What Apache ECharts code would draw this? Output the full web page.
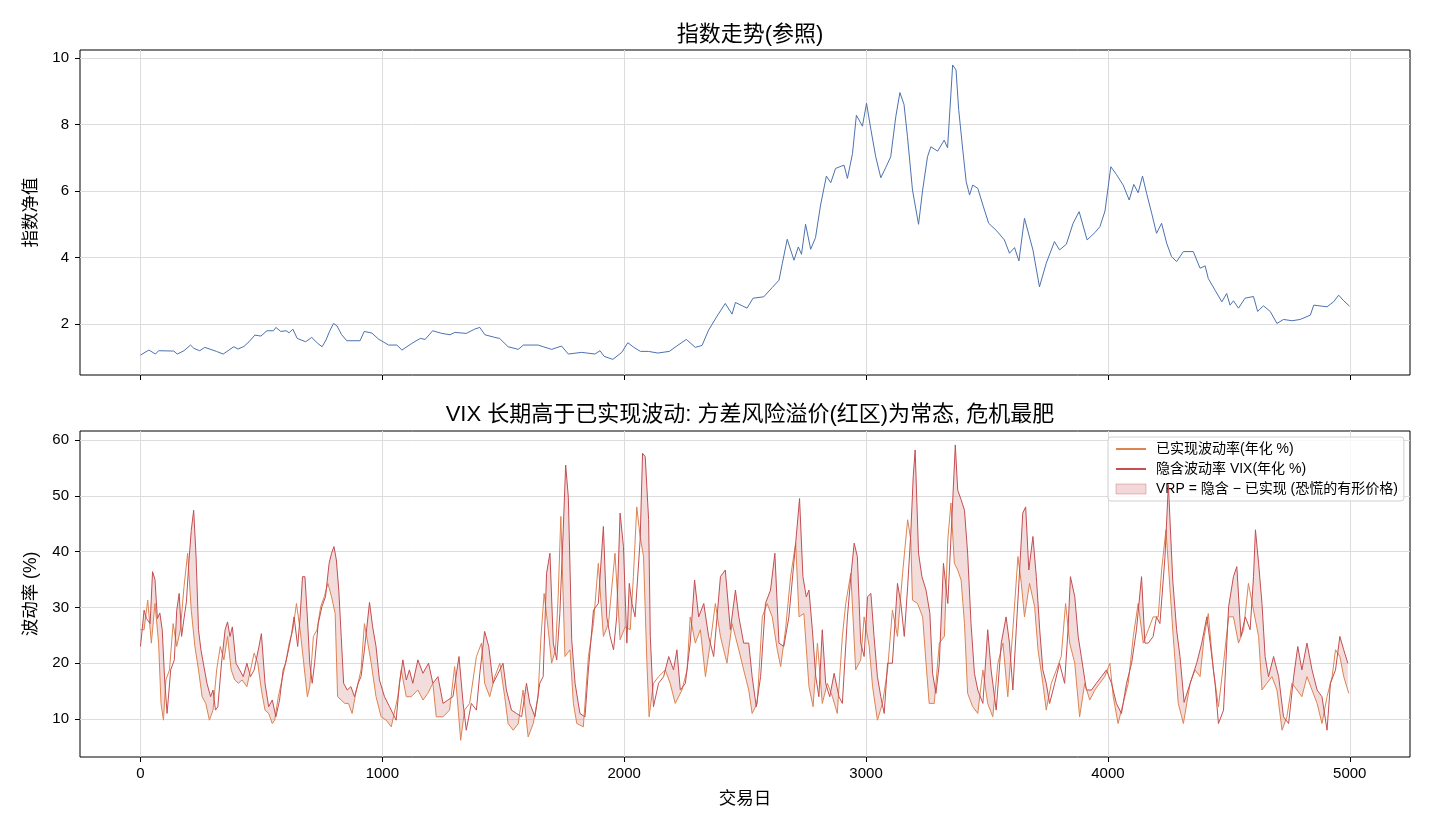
<!DOCTYPE html>
<html>
<head>
<meta charset="utf-8">
<script src="https://cdn.jsdelivr.net/npm/echarts@6/dist/echarts.min.js"></script>
<style>
  html, body { margin: 0; padding: 0; background: #fff; }
  #chart { width: 1430px; height: 832px; }
</style>
</head>
<body>
<div id="chart"></div>
<script>
// 指数净值 (上图)
const idxDays = [0, 35, 62, 75, 138, 152, 180, 207, 221, 245, 266, 314, 342, 362, 386, 403, 428, 449, 473, 498, 523, 550, 560, 580, 602, 615, 630, 648, 683, 708, 733, 751, 767, 781, 798, 812, 832, 853, 908, 925, 957, 984, 1026, 1060, 1081, 1122, 1157, 1177, 1208, 1246, 1280, 1300, 1347, 1382, 1403, 1424, 1465, 1485, 1520, 1562, 1583, 1645, 1665, 1700, 1741, 1769, 1824, 1879, 1900, 1917, 1953, 1990, 2015, 2040, 2067, 2100, 2139, 2187, 2215, 2257, 2294, 2322, 2349, 2384, 2418, 2446, 2460, 2488, 2508, 2533, 2577, 2612, 2640, 2654, 2674, 2702, 2720, 2733, 2750, 2771, 2791, 2812, 2836, 2854, 2874, 2909, 2923, 2944, 2960, 2985, 3002, 3020, 3040, 3061, 3081, 3102, 3123, 3140, 3157, 3171, 3192, 3217, 3234, 3254, 3268, 3296, 3323, 3337, 3351, 3358, 3372, 3383, 3400, 3414, 3428, 3441, 3462, 3483, 3507, 3538, 3572, 3593, 3614, 3632, 3655, 3669, 3690, 3717, 3745, 3779, 3800, 3828, 3856, 3881, 3914, 3946, 3967, 3988, 4012, 4035, 4063, 4088, 4107, 4125, 4143, 4160, 4181, 4201, 4222, 4243, 4263, 4284, 4312, 4353, 4381, 4402, 4415, 4443, 4471, 4491, 4505, 4519, 4540, 4567, 4602, 4619, 4643, 4671, 4699, 4726, 4761, 4795, 4837, 4851, 4906, 4933, 4954, 4975, 4999];
const idxValues = [1.07, 1.22, 1.10, 1.2, 1.19, 1.10, 1.2, 1.37, 1.27, 1.2, 1.3, 1.18, 1.10, 1.2, 1.32, 1.25, 1.33, 1.47, 1.67, 1.64, 1.80, 1.80, 1.90, 1.78, 1.8, 1.74, 1.85, 1.57, 1.47, 1.6, 1.42, 1.32, 1.52, 1.77, 2.02, 1.95, 1.68, 1.50, 1.50, 1.78, 1.73, 1.55, 1.37, 1.37, 1.22, 1.42, 1.57, 1.54, 1.80, 1.72, 1.68, 1.75, 1.72, 1.85, 1.90, 1.68, 1.6, 1.57, 1.32, 1.24, 1.37, 1.37, 1.32, 1.24, 1.34, 1.10, 1.15, 1.10, 1.2, 1.03, 0.94, 1.15, 1.44, 1.3, 1.18, 1.18, 1.13, 1.18, 1.33, 1.54, 1.3, 1.36, 1.82, 2.24, 2.62, 2.3, 2.65, 2.55, 2.48, 2.78, 2.82, 3.1, 3.32, 3.83, 4.55, 3.92, 4.32, 4.1, 5.0, 4.25, 4.6, 5.58, 6.45, 6.25, 6.68, 6.78, 6.38, 7.13, 8.28, 7.95, 8.64, 7.85, 7.03, 6.4, 6.7, 7.03, 8.24, 8.96, 8.6, 7.65, 6.03, 5.0, 6.03, 7.03, 7.33, 7.2, 7.53, 7.3, 8.94, 9.79, 9.64, 8.45, 7.23, 6.28, 5.88, 6.18, 6.08, 5.58, 5.03, 4.82, 4.53, 4.13, 4.3, 3.9, 5.18, 4.8, 4.23, 3.12, 3.83, 4.48, 4.23, 4.4, 5.03, 5.38, 4.53, 4.75, 4.93, 5.4, 6.73, 6.5, 6.18, 5.73, 6.2, 5.95, 6.45, 5.93, 5.33, 4.73, 5.03, 4.43, 4.03, 3.88, 4.18, 4.18, 3.68, 3.75, 3.37, 3.02, 2.67, 2.92, 2.57, 2.7, 2.48, 2.78, 2.83, 2.38, 2.55, 2.38, 2.02, 2.14, 2.1, 2.14, 2.27, 2.57, 2.52, 2.67, 2.87, 2.7, 2.54];

// 已实现波动率 (下图, 橙)
const rvDays = [0, 15, 30, 45, 60, 75, 85, 95, 105, 120, 135, 150, 165, 180, 195, 210, 225, 240, 255, 270, 285, 300, 315, 330, 345, 360, 375, 390, 405, 420, 440, 455, 470, 485, 500, 515, 530, 545, 555, 570, 585, 600, 615, 630, 645, 660, 675, 690, 700, 715, 730, 745, 760, 775, 790, 805, 815, 830, 845, 860, 875, 890, 912, 926, 940, 954, 974, 995, 1016, 1037, 1064, 1078, 1099, 1119, 1147, 1168, 1188, 1209, 1223, 1251, 1278, 1299, 1324, 1340, 1361, 1389, 1410, 1423, 1444, 1465, 1486, 1506, 1520, 1541, 1562, 1582, 1603, 1624, 1644, 1656, 1669, 1686, 1700, 1716, 1727, 1738, 1755, 1776, 1790, 1804, 1831, 1852, 1873, 1893, 1914, 1935, 1962, 1983, 2004, 2025, 2038, 2052, 2066, 2080, 2094, 2103, 2121, 2142, 2170, 2190, 2211, 2239, 2260, 2273, 2294, 2315, 2336, 2356, 2377, 2398, 2425, 2446, 2474, 2494, 2515, 2529, 2550, 2571, 2591, 2612, 2633, 2647, 2667, 2688, 2709, 2723, 2743, 2764, 2781, 2799, 2819, 2840, 2861, 2881, 2902, 2916, 2937, 2957, 2978, 2992, 3013, 3027, 3047, 3068, 3089, 3109, 3130, 3151, 3172, 3185, 3192, 3213, 3234, 3248, 3261, 3282, 3303, 3324, 3338, 3351, 3365, 3379, 3393, 3407, 3420, 3441, 3462, 3483, 3503, 3524, 3545, 3566, 3586, 3607, 3628, 3642, 3655, 3676, 3697, 3711, 3731, 3745, 3766, 3787, 3807, 3825, 3842, 3863, 3883, 3904, 3925, 3946, 3966, 3987, 4008, 4022, 4042, 4063, 4084, 4105, 4125, 4146, 4167, 4187, 4208, 4222, 4240, 4257, 4270, 4291, 4312, 4340, 4360, 4381, 4398, 4415, 4436, 4457, 4478, 4499, 4519, 4540, 4561, 4581, 4602, 4623, 4637, 4657, 4678, 4699, 4720, 4740, 4761, 4782, 4802, 4823, 4844, 4865, 4885, 4906, 4927, 4941, 4959, 4975, 4996];
const rvValues = [26, 26, 31.3, 23.6, 30.7, 23.6, 12.8, 9.8, 17, 18.8, 27.1, 23, 26, 33.7, 39.7, 29.5, 23, 18.8, 14, 12.8, 9.8, 11.6, 18.8, 23, 20.6, 24.8, 18.8, 17, 16.4, 17, 15.8, 18.8, 21.8, 20, 15.2, 11.6, 11, 9.2, 9.8, 14, 17, 20, 23.6, 26, 30.7, 26, 20, 14, 15.8, 24.8, 26, 30.1, 31.9, 34.3, 31.9, 28.9, 14, 13.4, 12.8, 12.8, 11, 14.6, 18.8, 27.1, 23.6, 20, 14, 10.4, 9.8, 8.6, 14, 18.8, 14, 14, 15.2, 13.4, 14.6, 16.4, 10.4, 10.4, 11.6, 19.4, 6.2, 11.6, 12.8, 21.2, 23.6, 16.4, 14, 17.6, 20, 14, 9.2, 8, 9.2, 15.2, 6.8, 9.2, 14, 24.8, 32.5, 26, 20, 22.4, 31.9, 46.3, 21.2, 22.4, 12.8, 9.2, 8.6, 21.2, 27.1, 37.9, 24.8, 27.1, 39.7, 24.2, 26.5, 26, 35.5, 48, 42.7, 39.1, 20, 10.4, 16.4, 17.6, 18.8, 16.4, 12.8, 15.2, 18.8, 28.3, 23.6, 26, 17.6, 23.6, 30.7, 24.8, 20, 27.1, 22.4, 18.8, 15.2, 11, 12.8, 28.3, 30.7, 28.3, 22.4, 19.4, 26, 35.5, 41.5, 28.3, 28.9, 15.8, 12.2, 23.6, 12.8, 16.4, 14, 11, 24.8, 30.7, 36.1, 18.8, 20.6, 28.3, 23, 15.8, 9.8, 12.8, 18.8, 29.5, 24.8, 36.1, 45.7, 42.1, 31.3, 30.7, 28.3, 20, 12.8, 12.8, 23.6, 24.8, 42.1, 48.7, 37.9, 36.7, 34.9, 27.1, 14.6, 12.2, 11, 18.8, 12.8, 10.4, 20, 23.6, 14, 26, 39.1, 34.3, 28.3, 34.3, 30.1, 22.4, 16.4, 11.6, 16.4, 18.8, 21.2, 30.7, 23.6, 20, 10.4, 16.4, 13.4, 15.2, 16.4, 17.6, 20, 14, 9.2, 12.8, 16.4, 24.8, 30.7, 23.6, 26, 28.3, 28.3, 36.7, 43.9, 33.1, 24.8, 12.8, 9.2, 16.4, 18.8, 17.6, 24.8, 28.9, 18.8, 12.2, 20, 28.3, 28.3, 23.6, 26, 34.3, 29.5, 24.8, 15.2, 16.4, 17.6, 15.2, 8, 10.4, 16.4, 15.2, 14, 17.6, 15.2, 12.8, 9.2, 14, 17.6, 22.4, 21.2, 17.6, 14.6];

// 隐含波动率 VIX (下图, 红)
const ivDays = [0, 15, 25, 40, 50, 60, 70, 80, 90, 100, 110, 125, 140, 150, 160, 170, 180, 190, 200, 210, 220, 230, 240, 250, 260, 275, 290, 300, 310, 320, 335, 350, 360, 370, 380, 395, 410, 425, 440, 455, 470, 490, 500, 515, 530, 545, 560, 575, 590, 600, 615, 625, 635, 650, 660, 670, 680, 690, 700, 710, 720, 735, 750, 765, 780, 790, 800, 810, 820, 830, 840, 855, 870, 885, 900, 912, 926, 947, 960, 974, 988, 1009, 1030, 1057, 1071, 1085, 1099, 1112, 1126, 1147, 1168, 1191, 1209, 1230, 1251, 1271, 1292, 1317, 1334, 1347, 1368, 1389, 1403, 1423, 1440, 1458, 1479, 1499, 1513, 1534, 1555, 1576, 1596, 1610, 1631, 1651, 1665, 1679, 1693, 1707, 1721, 1734, 1748, 1758, 1769, 1783, 1797, 1817, 1838, 1852, 1873, 1893, 1914, 1928, 1942, 1956, 1969, 1983, 1997, 2011, 2021, 2032, 2045, 2066, 2076, 2087, 2101, 2108, 2121, 2142, 2163, 2184, 2204, 2218, 2232, 2253, 2273, 2291, 2308, 2329, 2349, 2370, 2398, 2418, 2439, 2460, 2474, 2494, 2515, 2529, 2546, 2564, 2584, 2605, 2623, 2640, 2660, 2681, 2695, 2709, 2725, 2739, 2753, 2764, 2778, 2792, 2805, 2819, 2833, 2850, 2868, 2888, 2902, 2923, 2937, 2951, 2964, 2978, 2992, 3006, 3020, 3033, 3047, 3061, 3075, 3089, 3109, 3130, 3144, 3158, 3172, 3185, 3195, 3203, 3217, 3231, 3248, 3264, 3275, 3289, 3303, 3320, 3338, 3356, 3369, 3379, 3393, 3407, 3420, 3434, 3448, 3462, 3483, 3503, 3517, 3538, 3559, 3579, 3593, 3607, 3621, 3635, 3648, 3660, 3673, 3690, 3704, 3718, 3731, 3745, 3759, 3780, 3800, 3821, 3835, 3845, 3863, 3877, 3890, 3911, 3932, 3952, 3973, 3994, 4015, 4035, 4056, 4077, 4098, 4118, 4139, 4153, 4167, 4187, 4201, 4215, 4236, 4250, 4268, 4284, 4298, 4315, 4340, 4367, 4388, 4409, 4423, 4443, 4457, 4478, 4499, 4519, 4533, 4550, 4568, 4588, 4602, 4610, 4623, 4637, 4650, 4664, 4685, 4706, 4726, 4747, 4768, 4785, 4802, 4823, 4844, 4865, 4885, 4906, 4920, 4941, 4959, 4975, 4992];
const ivValues = [23, 29.5, 28, 27.1, 36.4, 35, 28, 29, 26, 17, 11, 18.8, 20.6, 29.5, 32.5, 24.8, 28, 31, 38, 43.8, 47.4, 39, 26, 22.4, 20, 16.4, 14, 15.2, 11.6, 12.2, 20, 26, 27.4, 24.8, 26.5, 20, 18.8, 17.6, 20, 17.6, 18.8, 23, 25.3, 16.4, 12.2, 13.4, 10.4, 13.4, 18.8, 20, 23, 25.3, 28.3, 23, 28.3, 35.5, 35.5, 28.3, 20, 16.4, 20, 27.1, 30.1, 31.9, 37.9, 39.7, 40.9, 38.5, 33.1, 24.8, 16.4, 15.2, 15.8, 14, 16.4, 17.6, 22.4, 30.9, 26.5, 23, 17, 14, 12.2, 9.8, 16.4, 20.6, 17, 18.8, 16.4, 20.6, 18.2, 20, 16.4, 17.6, 12.8, 13.4, 14, 21.2, 12.8, 8, 12.8, 11.6, 18.2, 25.7, 23, 16.4, 18.2, 20, 15.2, 11.6, 11, 10.4, 16.4, 12.8, 10.4, 16.4, 17.6, 36.1, 39.7, 23.6, 20.6, 28.9, 43.9, 55.5, 49.8, 24.2, 16.4, 11, 10.4, 18.8, 29.5, 30.7, 44.5, 28.3, 24.8, 22.4, 28.3, 46.9, 40.9, 23.6, 34.3, 30.7, 28.3, 42.1, 57.6, 57, 45.7, 24.8, 12.2, 16.4, 17.6, 21.2, 18.8, 22.4, 15.2, 16.4, 23.6, 34.9, 28.3, 30.7, 24.8, 21.2, 35.5, 36.7, 26, 33.1, 28.3, 23.6, 23.6, 17.6, 12.2, 17.6, 30.7, 33.1, 39.7, 23.6, 23, 28.3, 34.9, 41.5, 49.5, 35.5, 31.9, 33.1, 26, 17.6, 14, 26, 16.4, 14, 18.2, 14, 12.8, 28.3, 35.5, 41.5, 39.1, 23.6, 21.2, 31.9, 32.5, 24.8, 17.6, 14, 11, 20, 20, 34.3, 30.7, 24.8, 33.7, 43.3, 53.4, 58.2, 39.7, 35.5, 33.1, 28.9, 18.2, 14.6, 20, 37.9, 30.7, 46.9, 59.1, 51, 49.3, 47.4, 39.7, 27.1, 18.2, 15.2, 12.8, 26, 18.8, 11.6, 23.6, 28.3, 23.6, 15.2, 26, 36.7, 46.9, 48, 36.7, 42.7, 35.5, 26, 18.8, 16.4, 12.8, 16.4, 20, 16.4, 26, 35.5, 31.9, 24.8, 21.2, 15.2, 15.2, 16.4, 17.6, 18.8, 16.4, 12.8, 11, 16.4, 20, 26, 35.5, 23.6, 23.6, 24.8, 28.3, 27.1, 39.1, 52, 34.9, 26, 21.2, 13, 16.4, 20, 23.6, 28.3, 23.6, 16.4, 9.2, 11.6, 30.1, 35.5, 37.3, 24.8, 28.3, 26, 35.5, 43.9, 37.9, 30.7, 21.2, 17.6, 21.2, 17.6, 10.4, 9.2, 17.6, 23, 18.8, 23.6, 18.8, 15.2, 14, 8, 16.4, 18.8, 24.8, 22.4, 20];

// 刻度
const xTicks = [0, 1000, 2000, 3000, 4000, 5000];
const idxTicks = [2, 4, 6, 8, 10];
const volTicks = [10, 20, 30, 40, 50, 60];

const rvName = '已实现波动率(年化 %)';
const ivName = '隐含波动率 VIX(年化 %)';
const vrpName = 'VRP = 隐含 − 已实现 (恐慌的有形价格)';

const FONT = '"Liberation Sans", "Noto Sans CJK SC", sans-serif';
const zip = (a, b) => a.map((d, i) => [d, b[i]]);

// 折线上某一天的取值 (仅用于画填充区域的边界)
function lineAt(days, vals, d) {
    if (d <= days[0]) return vals[0];
    for (let i = 1; i < days.length; i++) {
        if (d <= days[i]) {
            const t = (d - days[i - 1]) / (days[i] - days[i - 1]);
            return vals[i - 1] + t * (vals[i] - vals[i - 1]);
        }
    }
    return vals[vals.length - 1];
}

// VIX > 已实现 的区段 -> 多边形列表 (数据坐标)
function vrpPolygons() {
    const end = Math.min(rvDays[rvDays.length - 1], ivDays[ivDays.length - 1]);
    const all = Array.from(new Set(rvDays.concat(ivDays))).filter(d => d <= end).sort((a, b) => a - b);
    const pts = [];
    for (let i = 0; i < all.length; i++) {
        const d = all[i];
        const p = { d: d, r: lineAt(rvDays, rvValues, d), v: lineAt(ivDays, ivValues, d) };
        if (i > 0) {
            const q = pts[pts.length - 1];
            const a = q.v - q.r, b = p.v - p.r;
            if (a * b < 0) {
                const t = a / (a - b);
                const dc = q.d + t * (p.d - q.d);
                const yc = q.r + t * (p.r - q.r);
                pts.push({ d: dc, r: yc, v: yc });
            }
        }
        pts.push(p);
    }
    const polys = [];
    let run = [];
    pts.forEach(p => {
        if (p.v >= p.r) run.push(p);
        else { if (run.length > 1) polys.push(run); run = []; }
    });
    if (run.length > 1) polys.push(run);
    return polys;
}
const vrpRuns = vrpPolygons();

const chart = echarts.init(document.getElementById('chart'));

function xAxisCfg(idx, withLabel) {
    return {
        type: 'value', gridIndex: idx, min: -250, max: 5249,
        name: withLabel ? '交易日' : '', nameLocation: 'middle', nameGap: 33,
        nameTextStyle: { color: '#000', fontSize: 17.5, fontFamily: FONT },
        axisLine: { show: false, onZero: false },
        axisTick: { show: true, customValues: xTicks, length: 5, lineStyle: { color: '#000' } },
        axisLabel: { show: withLabel, customValues: xTicks, color: '#000', fontSize: 15, fontFamily: FONT, margin: 9,
                     formatter: v => String(v) },
        splitLine: { show: true, lineStyle: { color: '#dcdcdc', width: 1 } }
    };
}

function yAxisCfg(idx, name, min, max, ticks) {
    return {
        type: 'value', gridIndex: idx, min: min, max: max,
        name: name, nameLocation: 'middle', nameGap: 40, nameRotate: 90,
        nameTextStyle: { color: '#000', fontSize: 17.5, fontFamily: FONT },
        axisLine: { show: false, onZero: false },
        axisTick: { show: true, customValues: ticks, length: 5, lineStyle: { color: '#000' } },
        axisLabel: { customValues: ticks, color: '#000', fontSize: 15, fontFamily: FONT, margin: 11,
                     formatter: v => String(v) },
        splitLine: { show: true, lineStyle: { color: '#dcdcdc', width: 1 } }
    };
}

chart.setOption({
    animation: false,
    backgroundColor: '#fff',
    title: [
        { text: '指数走势(参照)', left: 745, top: 19, textAlign: 'center',
          textStyle: { fontSize: 22, fontWeight: 'normal', color: '#000', fontFamily: FONT } },
        { text: 'VIX 长期高于已实现波动: 方差风险溢价(红区)为常态, 危机最肥', left: 745, top: 399, textAlign: 'center',
          textStyle: { fontSize: 22, fontWeight: 'normal', color: '#000', fontFamily: FONT } }
    ],
    grid: [
        { left: 80, width: 1330, top: 50, height: 325, show: true, borderColor: '#000', borderWidth: 1, backgroundColor: 'transparent' },
        { left: 80, width: 1330, top: 431, height: 326, show: true, borderColor: '#000', borderWidth: 1, backgroundColor: 'transparent' }
    ],
    xAxis: [xAxisCfg(0, false), xAxisCfg(1, true)],
    yAxis: [
        yAxisCfg(0, '指数净值', 0.47, 10.24, idxTicks),
        yAxisCfg(1, '波动率 (%)', 3.2, 61.6, volTicks)
    ],
    legend: {
        orient: 'vertical', left: 1108, top: 437,
        padding: [5, 6, 5, 7], itemGap: 6, itemWidth: 30, itemHeight: 10,
        backgroundColor: 'rgba(255,255,255,0.8)', borderColor: '#d0d0d0', borderWidth: 1, borderRadius: 3,
        textStyle: { fontSize: 14, color: '#000', fontFamily: FONT, padding: [0, 0, 0, 5] },
        data: [
            { name: rvName, itemStyle: { opacity: 0 } },
            { name: ivName, itemStyle: { opacity: 0 } },
            { name: vrpName, icon: 'rect',
              itemStyle: { color: 'rgba(196,78,82,0.22)', borderColor: 'rgba(196,78,82,0.35)', borderWidth: 1, opacity: 1 } }
        ]
    },
    series: [
        {
            type: 'line', xAxisIndex: 0, yAxisIndex: 0, data: zip(idxDays, idxValues),
            symbol: 'none', lineStyle: { color: '#4c72b0', width: 1 }, itemStyle: { color: '#4c72b0' }
        },
        {
            type: 'custom', name: vrpName, xAxisIndex: 1, yAxisIndex: 1, data: [[0, 0]],
            clip: true, z: 1, itemStyle: { color: 'rgba(196,78,82,0.2)' },
            renderItem: function (params, api) {
                const children = vrpRuns.map(run => {
                    const top = run.map(p => api.coord([p.d, p.v]));
                    const bottom = run.slice().reverse().map(p => api.coord([p.d, p.r]));
                    return { type: 'polygon', shape: { points: top.concat(bottom) },
                             style: { fill: 'rgba(196,78,82,0.2)' } };
                });
                return { type: 'group', children: children };
            }
        },
        {
            type: 'line', name: rvName, xAxisIndex: 1, yAxisIndex: 1, data: zip(rvDays, rvValues),
            symbol: 'none', z: 3, lineStyle: { color: '#dd8452', width: 1 }, itemStyle: { color: '#dd8452' }
        },
        {
            type: 'line', name: ivName, xAxisIndex: 1, yAxisIndex: 1, data: zip(ivDays, ivValues),
            symbol: 'none', z: 4, lineStyle: { color: '#c44e52', width: 1 }, itemStyle: { color: '#c44e52' }
        }
    ]
});
</script>
</body>
</html>
